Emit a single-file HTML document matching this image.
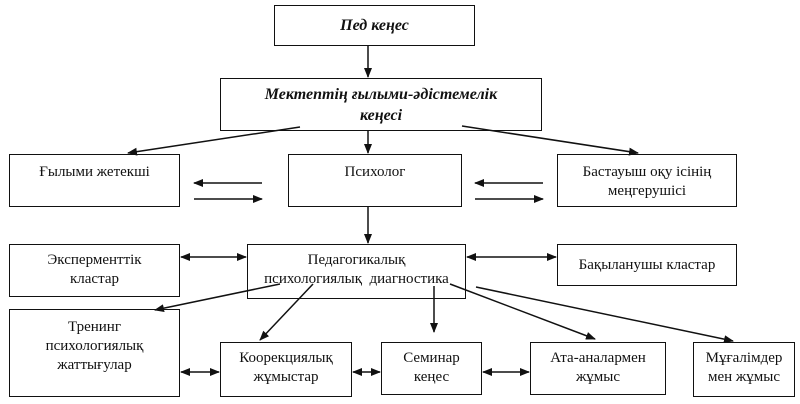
<!DOCTYPE html>
<html><head><meta charset="utf-8"><style>
body{margin:0;background:#fff;width:800px;height:404px;overflow:hidden;position:relative;font-family:"Liberation Serif","DejaVu Serif",serif;}
.b{position:absolute;border:1.5px solid #111;box-sizing:border-box;display:flex;justify-content:center;text-align:center;font-size:15px;line-height:19px;color:#111;}
svg{position:absolute;left:0;top:0}
</style></head><body>
<div class="b" style="left:274px;top:5px;width:201px;height:41px;align-items:center;font-weight:bold;font-style:italic;font-size:16px">Пед кеңес</div>
<div class="b" style="left:220px;top:78px;width:322px;height:53px;align-items:center;font-weight:bold;font-style:italic;font-size:16px;line-height:21px">Мектептің ғылыми-әдістемелік<br>кеңесі</div>
<div class="b" style="left:9px;top:154px;width:171px;height:53px;padding-top:8px">Ғылыми жетекші</div>
<div class="b" style="left:288px;top:154px;width:174px;height:53px;padding-top:8px">Психолог</div>
<div class="b" style="left:557px;top:154px;width:180px;height:53px;padding-top:8px">Бастауыш оқу ісінің<br>меңгерушісі</div>
<div class="b" style="left:9px;top:244px;width:171px;height:53px;padding-top:6px">Эксперменттік<br>кластар</div>
<div class="b" style="left:247px;top:244px;width:219px;height:55px;padding-top:6px">Педагогикалық<br>психологиялық&nbsp; диагностика</div>
<div class="b" style="left:557px;top:244px;width:180px;height:42px;align-items:center">Бақыланушы кластар</div>
<div class="b" style="left:9px;top:309px;width:171px;height:88px;padding-top:8px">Тренинг<br>психологиялық<br>жаттығулар</div>
<div class="b" style="left:220px;top:342px;width:132px;height:55px;padding-top:6px">Коорекциялық<br>жұмыстар</div>
<div class="b" style="left:381px;top:342px;width:101px;height:53px;padding-top:6px">Семинар<br>кеңес</div>
<div class="b" style="left:530px;top:342px;width:136px;height:53px;padding-top:6px">Ата-аналармен<br>жұмыс</div>
<div class="b" style="left:693px;top:342px;width:102px;height:55px;padding-top:6px">Мұғалімдер<br>мен жұмыс</div>
<svg width="800" height="404">
<defs><marker id="a" markerWidth="10" markerHeight="8" refX="9" refY="4" orient="auto" markerUnits="userSpaceOnUse"><path d="M0,0 L10,4 L0,8 z" fill="#111"/></marker>
<marker id="s" markerWidth="10" markerHeight="8" refX="1" refY="4" orient="auto" markerUnits="userSpaceOnUse"><path d="M10,0 L0,4 L10,8 z" fill="#111"/></marker></defs>
<g stroke="#111" stroke-width="1.5" fill="none" marker-end="url(#a)">
<line x1="368" y1="46" x2="368" y2="77"/>
<line x1="300" y1="127" x2="128" y2="153"/>
<line x1="368" y1="131" x2="368" y2="153"/>
<line x1="462" y1="126" x2="638" y2="153"/>
<line x1="262" y1="183" x2="194" y2="183"/>
<line x1="194" y1="199" x2="262" y2="199"/>
<line x1="543" y1="183" x2="475" y2="183"/>
<line x1="475" y1="199" x2="543" y2="199"/>
<line x1="368" y1="207" x2="368" y2="243"/>
<line x1="280" y1="284" x2="155" y2="310"/>
<line x1="313" y1="284" x2="260" y2="340"/>
<line x1="434" y1="286" x2="434" y2="332"/>
<line x1="450" y1="284" x2="595" y2="339"/>
<line x1="476" y1="287" x2="733" y2="341"/>
<line x1="181" y1="257" x2="246" y2="257" marker-start="url(#s)"/>
<line x1="467" y1="257" x2="556" y2="257" marker-start="url(#s)"/>
<line x1="181" y1="372" x2="219" y2="372" marker-start="url(#s)"/>
<line x1="353" y1="372" x2="380" y2="372" marker-start="url(#s)"/>
<line x1="483" y1="372" x2="529" y2="372" marker-start="url(#s)"/>
</g></svg>
</body></html>
